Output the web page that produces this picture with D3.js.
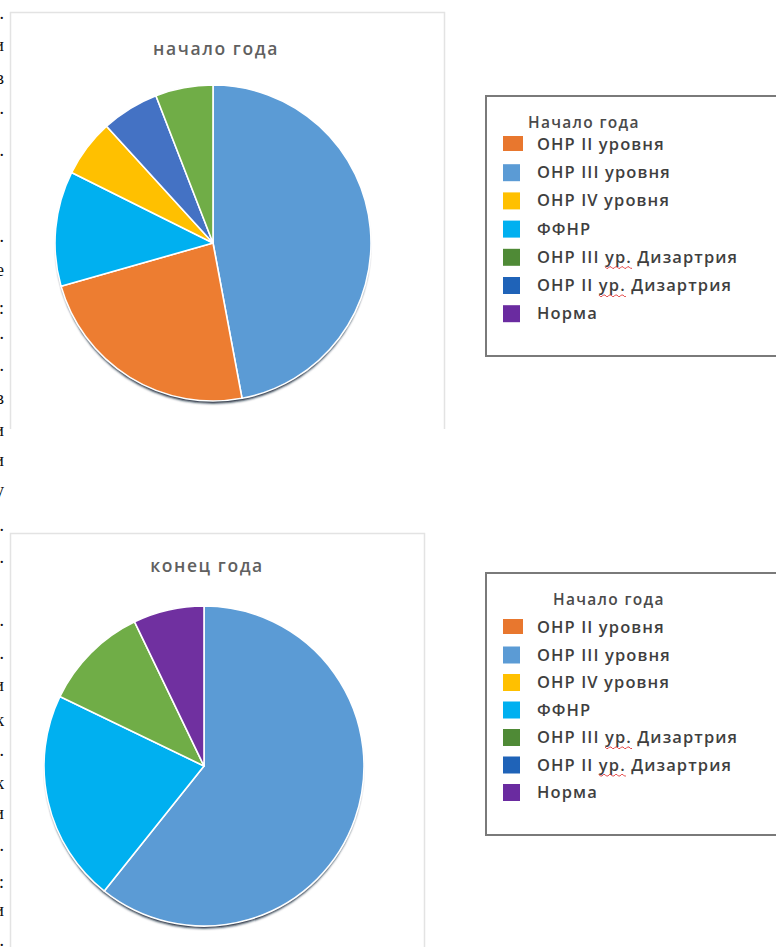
<!DOCTYPE html>
<html><head><meta charset="utf-8">
<script src="https://cdn.jsdelivr.net/npm/d3@7"></script>
<style>
html,body{margin:0;padding:0;background:#fff;overflow:hidden;}
svg{display:block;}
</style></head>
<body>
<svg id="c" width="776" height="947"></svg>
<script>
// ---- data ----
const categories = ["ОНР II уровня","ОНР III уровня","ОНР IV уровня","ФФНР","ОНР III ур. Дизартрия","ОНР II ур. Дизартрия","Норма"];
const startCats = ["ОНР III уровня","ОНР II уровня","ФФНР","ОНР IV уровня","ОНР II ур. Дизартрия","ОНР III ур. Дизартрия"];
const startVals = [8,4,2,1,1,1];
const endCats = ["ОНР III уровня","ФФНР","ОНР III ур. Дизартрия","Норма"];
const endVals = [17,6,3,2];
const chartTitles = ["начало года","конец года"];
const legendTitle = "Начало года";
const edgeChars = [".","и","в",".",".",".","е",":",".",".","в","и","и","у",".",".",".",".","и","к",".","к","и",".",":","и","."];
const edgeY = [13,45,78,108,150,236,270,308,333,365,398,430,460,490,525,557,620,653,685,720,750,783,813,845,882,910,940];

// ---- styles ----
const pieColor = d3.scaleOrdinal().domain(categories)
  .range(["#ED7D31","#5B9BD5","#FFC000","#00B0F0","#70AD47","#4472C4","#7030A0"]);
const legColor = d3.scaleOrdinal().domain(categories)
  .range(["#E8772E","#5B9BD5","#FFC000","#00B0F0","#4F8A36","#1F63B8","#6A2BA0"]);

const svg = d3.select("#c");
const defs = svg.append("defs");
const f = defs.append("filter").attr("id","sh").attr("x","-10%").attr("y","-10%").attr("width","120%").attr("height","125%");
f.append("feDropShadow").attr("dx",0).attr("dy",3.5).attr("stdDeviation",1).attr("flood-color","#0d1a2e").attr("flood-opacity",0.95);
const fb = defs.append("filter").attr("id","blur");
fb.append("feGaussianBlur").attr("stdDeviation",0.6);

svg.append("rect").attr("x",10.5).attr("y",12.5).attr("width",434).attr("height",440)
  .attr("fill","none").attr("stroke","#e3e3e3").attr("stroke-width",1.5).attr("filter","url(#blur)");
svg.append("rect").attr("x",10.5).attr("y",533.5).attr("width",414).attr("height",440)
  .attr("fill","none").attr("stroke","#e3e3e3").attr("stroke-width",1.5).attr("filter","url(#blur)");
svg.append("rect").attr("x",0).attr("y",429).attr("width",460).attr("height",100).attr("fill","#fff");

const font = "'Open Sans', sans-serif";

function drawPie(cx, cy, r, cats, vals, title, ty){
  const g = svg.append("g").attr("transform",`translate(${cx},${cy})`);
  const data = cats.map((c,i)=>({cat:c, v:vals[i]}));
  const pie = d3.pie().sort(null).value(d=>d.v);
  const arc = d3.arc().innerRadius(0).outerRadius(r);
  const arcs = pie(data);
  g.append("circle").attr("r",r-1).attr("fill","#4a7fb5").attr("filter","url(#sh)");
  g.selectAll("path.s").data(arcs).join("path").attr("class","s")
    .attr("d",arc).attr("fill",d=>pieColor(d.data.cat))
    .attr("stroke","#ffffff").attr("stroke-width",1.6).attr("stroke-linejoin","round");
  svg.append("text").attr("x",cx+3).attr("y",ty).attr("text-anchor","middle")
    .attr("font-family",font).attr("font-size",17.5).attr("font-weight",600)
    .attr("letter-spacing",1.6).attr("fill","#606060").text(title);
}
drawPie(213, 243, 158, startCats, startVals, chartTitles[0], 55);
drawPie(204, 766, 160, endCats, endVals, chartTitles[1], 572);

function drawLegend(x, y, h, titleX, titleY, rowY0, step){
  svg.append("rect").attr("x",x).attr("y",y).attr("width",800-x).attr("height",h)
    .attr("fill","#fff").attr("stroke","#7a7a7a").attr("stroke-width",2);
  svg.append("text").attr("x",titleX).attr("y",titleY).attr("font-family",font)
    .attr("font-size",15.5).attr("font-weight",600).attr("letter-spacing",1.3)
    .attr("fill","#4a4a4a").text(legendTitle);
  categories.forEach((c,i)=>{
    const cy = rowY0 + i*step;
    svg.append("rect").attr("x",503).attr("y",cy-8).attr("width",i===0?20:17).attr("height",i===0?15:17)
      .attr("fill",legColor(c));
    const t = svg.append("text").attr("x",537).attr("y",cy+6).attr("font-family",font)
      .attr("font-size",16.5).attr("font-weight",600).attr("letter-spacing",1.1)
      .attr("fill","#3f3f3f").text(c);
    const idx = c.indexOf("ур.");
    if(idx>=0){
      const node = t.node();
      const x0 = 537 + node.getSubStringLength(0, idx);
      const w = node.getSubStringLength(idx, 3);
      let p = `M${x0},${cy+10}`;
      for(let k=0;k<w;k+=3){ p += ` l1.5,${(k/3)%2?-1.5:1.5}`; p += ` l1.5,0`; }
      svg.append("path").attr("d",p).attr("fill","none").attr("stroke","#e03030").attr("stroke-width",0.9);
    }
  });
}
drawLegend(486, 96, 260, 528, 128, 144, 28.2);
drawLegend(486, 573, 262, 553, 605, 627, 27.5);

svg.selectAll("text.edge").data(edgeChars).join("text").attr("class","edge")
  .attr("x",4).attr("y",(d,i)=>edgeY[i]+6).attr("text-anchor","end")
  .attr("font-family","'Liberation Serif', serif").attr("font-size",18).attr("fill","#111").text(d=>d);
</script>
</body></html>
